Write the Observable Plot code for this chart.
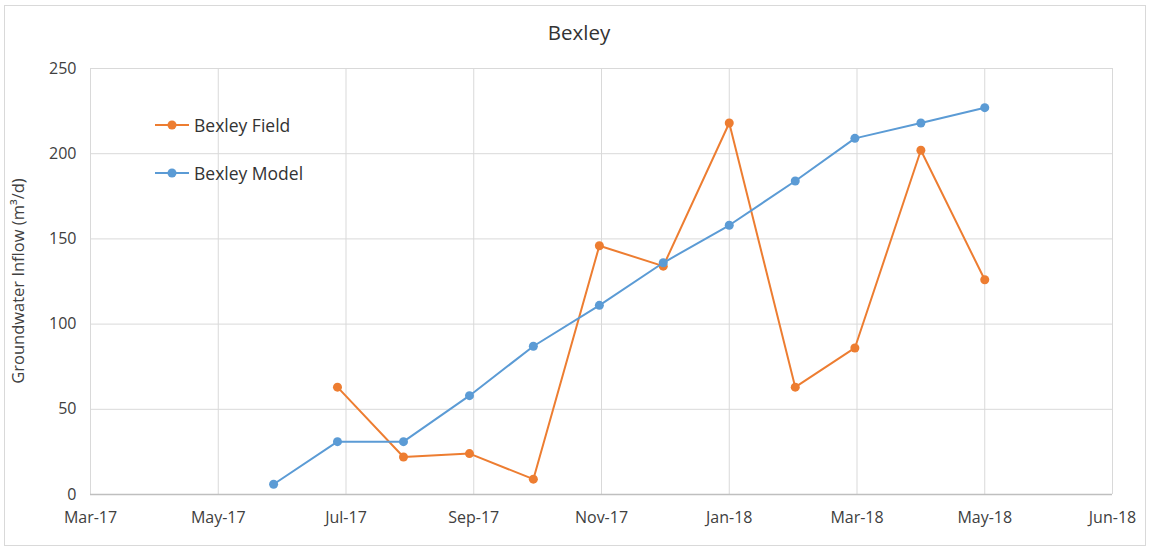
<!DOCTYPE html>
<html>
<head>
<meta charset="utf-8">
<script src="https://cdn.jsdelivr.net/npm/d3@7"></script>
<script src="https://cdn.jsdelivr.net/npm/@observablehq/plot@0.6"></script>
<style>
  html, body { margin: 0; padding: 0; background: #fff; }
  #wrap { position: relative; width: 1151px; height: 550px; font-family: "Open Sans", "Noto Sans", sans-serif; color: #404040; }
  #frame { position: absolute; left: 4px; top: 5px; width: 1142px; height: 541px; border: 1px solid #d9d9d9; box-sizing: border-box; pointer-events: none; }
  #title { position: absolute; left: 0; width: 1158px; top: 18px; text-align: center; font-size: 20.5px; color: #333; }
  #legend { position: absolute; left: 155px; top: 111px; font-size: 17.5px; color: #333; }
  #legend .item { display: flex; align-items: center; height: 28px; margin-bottom: 20px; }
  #legend svg { margin-right: 5px; }
  #chart { position: absolute; left: 0; top: 0; }
</style>
</head>
<body>
<div id="wrap">
  <div id="chart"></div>
  <div id="frame"></div>
  <div id="title"></div>
  <div id="legend"></div>
</div>
<script>
const title = "Bexley";
const yLabel = "Groundwater Inflow (m³/d)";
const seriesNames = ["Bexley Field", "Bexley Model"];
const seriesColors = ["#ED7D31", "#5B9BD5"];

const months = ["2017-06-01","2017-07-01","2017-08-01","2017-09-01","2017-10-01","2017-11-01",
                "2017-12-01","2018-01-01","2018-02-01","2018-03-01","2018-04-01","2018-05-01"];
const fieldValues = [null, 63, 22, 24, 9, 146, 134, 218, 63, 86, 202, 126];
const modelValues = [6, 31, 31, 58, 87, 111, 136, 158, 184, 209, 218, 227];

const xDomain = ["2017-03-07", "2018-06-30"];
const tickDates = ["2017-03-07","2017-05-06","2017-07-05","2017-09-03","2017-11-02",
                   "2018-01-01","2018-03-02","2018-05-01","2018-06-30"];
const tickLabels = ["Mar-17","May-17","Jul-17","Sep-17","Nov-17","Jan-18","Mar-18","May-18","Jun-18"];
const yTicks = [0, 50, 100, 150, 200, 250];

const parse = d3.utcParse("%Y-%m-%d");
const fieldData = months.map((m, i) => ({date: parse(m), value: fieldValues[i], series: seriesNames[0]}));
const modelData = months.map((m, i) => ({date: parse(m), value: modelValues[i], series: seriesNames[1]}));
const tickDateObjs = tickDates.map(parse);
const labelOf = new Map(tickDateObjs.map((d, i) => [+d, tickLabels[i]]));

const chart = Plot.plot({
  width: 1151,
  height: 550,
  marginLeft: 90,
  marginRight: 39,
  marginTop: 68,
  marginBottom: 56,
  style: {fontFamily: '"Open Sans", "Noto Sans", sans-serif', fontSize: "16px", color: "#404040", background: "transparent", overflow: "visible"},
  x: {type: "utc", domain: xDomain.map(parse), ticks: tickDateObjs, tickFormat: d => labelOf.get(+d), tickSize: 0, tickPadding: 17, label: null},
  y: {domain: [0, 250], ticks: yTicks, tickSize: 0, tickPadding: 14, label: null},
  marks: [
    Plot.gridY(yTicks, {stroke: "#d9d9d9", strokeOpacity: 1, strokeWidth: 1}),
    Plot.gridX(tickDateObjs, {stroke: "#d9d9d9", strokeOpacity: 1, strokeWidth: 1}),
    Plot.ruleY([0], {stroke: "#bfbfbf", strokeWidth: 1.3}),
    Plot.axisX({ticks: tickDateObjs, tickFormat: d => labelOf.get(+d), tickSize: 0, tickPadding: 17, fill: "#404040", fontSize: 16}),
    Plot.axisY({ticks: yTicks, tickSize: 0, tickPadding: 14, fill: "#404040", fontSize: 16}),
    Plot.line(fieldData, {x: "date", y: "value", stroke: seriesColors[0], strokeWidth: 2, defined: d => d.value != null}),
    Plot.dot(fieldData.filter(d => d.value != null), {x: "date", y: "value", fill: seriesColors[0], r: 4.5}),
    Plot.line(modelData, {x: "date", y: "value", stroke: seriesColors[1], strokeWidth: 2}),
    Plot.dot(modelData, {x: "date", y: "value", fill: seriesColors[1], r: 4.5})
  ]
});

// Y axis label
const svg = d3.select(chart);
svg.append("text")
  .attr("transform", "translate(24,281) rotate(-90)")
  .attr("text-anchor", "middle")
  .attr("fill", "#404040")
  .style("font-size", "16.5px")
  .text(yLabel);

document.getElementById("chart").appendChild(chart);
document.getElementById("title").textContent = title;

const legend = d3.select("#legend");
seriesNames.forEach((name, i) => {
  const item = legend.append("div").attr("class", "item");
  const s = item.append("svg").attr("width", 34).attr("height", 12);
  s.append("line").attr("x1", 0).attr("x2", 34).attr("y1", 6).attr("y2", 6).attr("stroke", seriesColors[i]).attr("stroke-width", 2);
  s.append("circle").attr("cx", 17).attr("cy", 6).attr("r", 4.5).attr("fill", seriesColors[i]);
  item.append("span").text(name);
});
</script>
</body>
</html>
